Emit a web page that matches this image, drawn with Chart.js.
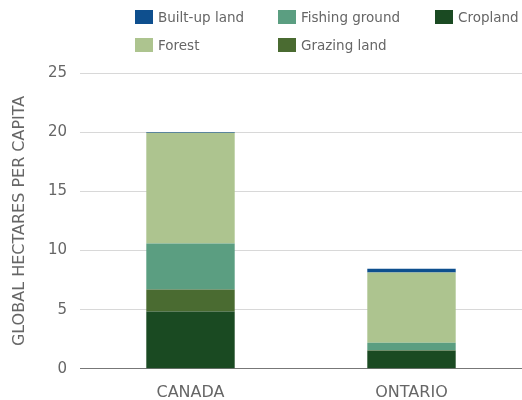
<!DOCTYPE html>
<html>
<head>
<meta charset="utf-8">
<script src="https://cdn.jsdelivr.net/npm/chart.js@4"></script>
<style>
    body { margin: 0; background: #fff; }
    #wrap { position: relative; width: 522px; height: 400px; }
    #legend { position: absolute; left: 0; top: 0; width: 522px; height: 60px; font-family: "DejaVu Sans", sans-serif; font-size: 13.5px; color: #666; }
    .item { position: absolute; height: 14px; line-height: 14px; white-space: nowrap; }
    .box { display: inline-block; width: 18px; height: 14px; vertical-align: top; margin-right: 5px; }
</style>
</head>
<body>
<div id="wrap">
    <canvas id="myChart" width="522" height="400"></canvas>
    <div id="legend"></div>
</div>
<script>
    // data
    const regions = ['CANADA', 'ONTARIO'];
    const cropland = [4.85, 1.53];
    const grazing = [1.85, 0.03];
    const fishing = [3.9, 0.65];
    const forest = [9.34, 5.93];
    const builtUp = [0.08, 0.31];
    const yTicks = [0, 5, 10, 15, 20, 25];

    const colors = {
        built: '#0e4f8e',
        fishing: '#5b9e81',
        crop: '#1a4a22',
        forest: '#adc48f',
        grazing: '#4a6b31'
    };

    // stacking order bottom to top
    const datasets = [
        { label: 'Cropland', data: cropland, backgroundColor: colors.crop },
        { label: 'Grazing land', data: grazing, backgroundColor: colors.grazing },
        { label: 'Fishing ground', data: fishing, backgroundColor: colors.fishing },
        { label: 'Forest', data: forest, backgroundColor: colors.forest },
        { label: 'Built-up land', data: builtUp, backgroundColor: colors.built }
    ];

    // legend laid out in columns like the original
    const legendItems = [
        ['Built-up land', colors.built, 135, 10],
        ['Fishing ground', colors.fishing, 278, 10],
        ['Cropland', colors.crop, 435, 10],
        ['Forest', colors.forest, 135, 38],
        ['Grazing land', colors.grazing, 278, 38]
    ];
    const legend = document.getElementById('legend');
    legendItems.forEach(function (it) {
        const d = document.createElement('div');
        d.className = 'item';
        d.style.left = it[2] + 'px';
        d.style.top = it[3] + 'px';
        d.innerHTML = '<span class="box" style="background:' + it[1] + '"></span>' + it[0];
        legend.appendChild(d);
    });

    const ctx = document.getElementById('myChart');
    const myChart = new Chart(ctx, {
        type: 'bar',
        data: {
            labels: regions,
            datasets: datasets.map(function (ds) {
                return Object.assign({ barPercentage: 0.4, categoryPercentage: 1.0, borderWidth: 0 }, ds);
            })
        },
        options: {
            responsive: false,
            animation: false,
            layout: { padding: { top: 73, bottom: -8, right: 0, left: 0 } },
            plugins: {
                legend: { display: false },
                tooltip: { enabled: false }
            },
            scales: {
                x: {
                    stacked: true,
                    grid: { display: false },
                    border: { color: '#777', width: 1 },
                    ticks: {
                        color: '#666',
                        padding: 6,
                        font: { family: 'DejaVu Sans', size: 16 }
                    }
                },
                y: {
                    stacked: true,
                    min: 0,
                    max: 25,
                    afterFit: function (scale) { scale.width = 80; },
                    afterBuildTicks: function (scale) {
                        scale.ticks = yTicks.map(function (v) { return { value: v }; });
                    },
                    border: { display: false },
                    grid: {
                        color: function (c) { return c.tick.value === 0 ? '#777' : '#d8d8d8'; },
                        lineWidth: 1,
                        drawTicks: false
                    },
                    ticks: {
                        color: '#666',
                        padding: 13,
                        font: { family: 'DejaVu Sans', size: 15 }
                    },
                    title: {
                        display: true,
                        text: 'GLOBAL HECTARES PER CAPITA',
                        color: '#666',
                        padding: { top: 10, bottom: 0 },
                        font: { family: 'DejaVu Sans', size: 16 }
                    }
                }
            }
        }
    });
</script>
</body>
</html>
